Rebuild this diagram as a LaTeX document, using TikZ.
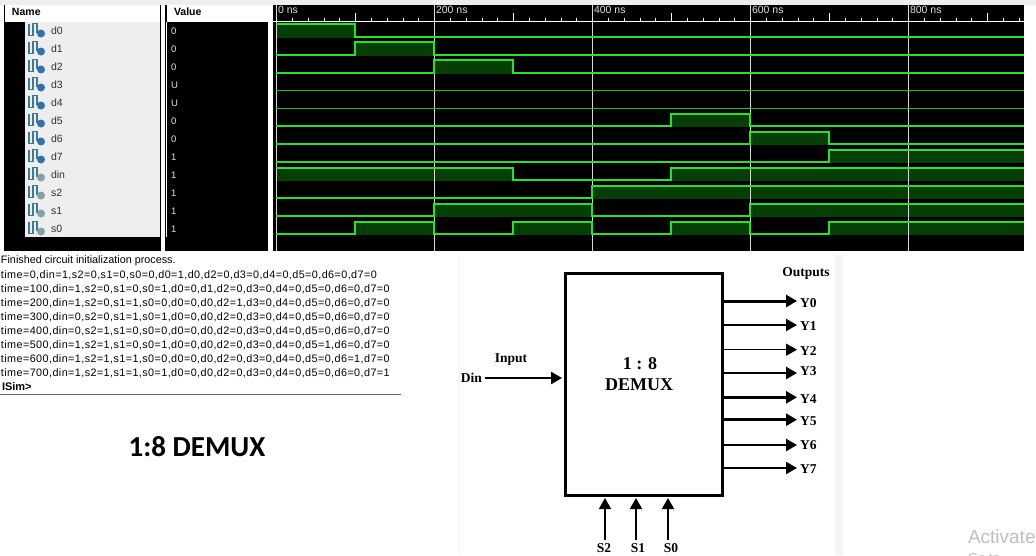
\documentclass[tikz,border=0pt]{standalone}
\usepackage{fontspec}
\setmainfont{Liberation Sans}
\newfontfamily\uifont{Liberation Sans}
\newfontfamily\logfont[LetterSpace=3.9]{Liberation Sans}
\newfontfamily\serifbold{Liberation Serif}
\newfontfamily\titlefont{Carlito}
\usetikzlibrary{arrows.meta}
\definecolor{wavegreen}{HTML}{2BE02B}
\definecolor{wavefill}{HTML}{063F06}
\definecolor{panelgrey}{HTML}{EEEEEE}
\definecolor{iconblue}{HTML}{2F72AE}
\definecolor{iconteal}{HTML}{7FA3A8}
\definecolor{iconline}{HTML}{3F7A92}
\tikzset{
  x=1pt,y=-1pt,
  every node/.style={inner sep=0pt,outer sep=0pt},
  wave/.style={draw=wavegreen,line width=1.8pt,line join=miter},
  thinwave/.style={draw=wavegreen!85!black,line width=1.1pt},
  high/.style={fill=wavefill,draw=none},
  cursorline/.style={draw=white!85!black,line width=1pt},
  tick/.style={draw=white,line width=.8pt},
  headtext/.style={anchor=west,font=\uifont\bfseries\fontsize{10.5}{12}\selectfont,text=black},
  sigtext/.style={anchor=west,font=\uifont\fontsize{10.5}{12}\selectfont,text=black!80},
  valtext/.style={anchor=west,font=\uifont\fontsize{9.5}{11}\selectfont,text=white!90!black},
  timetext/.style={anchor=west,font=\uifont\fontsize{10.5}{12}\selectfont,text=white!88!black},
  logtext/.style={anchor=west,font=\logfont\fontsize{10.8}{12}\selectfont,text=black},
  lbl/.style={font=\serifbold\bfseries\fontsize{13.5}{15}\selectfont,text=black},
  biglbl/.style={font=\serifbold\bfseries\fontsize{18}{20}\selectfont,text=black},
  box/.style={draw=black,line width=3pt,fill=white},
  arr/.style={draw=black,-{Triangle[length=11pt,width=12pt]}},
}
\newcommand{\sigicon}[3]{%
  \draw[iconline,line width=1.1pt] (#1,#2-7) -- (#1,#2+5) -- (#1+4,#2+5) -- (#1+4,#2-7) -- (#1+8,#2-7) -- (#1+8,#2+2);
  \fill[#3] (#1+12,#2+3) circle (4);
}
\begin{document}
\begin{tikzpicture}
\useasboundingbox (0,0) rectangle (1036,555);
\fill[white] (0,0) rectangle (1036,555);
% top strip
\fill[panelgrey] (0,0) rectangle (1036,4.5);
% panels
\fill[black] (4,5) rectangle (161,251);
\fill[black] (165,5) rectangle (268,251);
\fill[black] (273,5) rectangle (1024,251);
\fill[white] (5,5) rectangle (160,22);
\fill[white] (167,5) rectangle (268,22);
\fill[panelgrey] (25,22) rectangle (160,237);
\draw[white,line width=.8pt] (166.5,22) -- (166.5,237);
% signal names, icons, values
\foreach \i/\n/\v/\c in {0/d0/0/iconblue,1/d1/0/iconblue,2/d2/0/iconblue,3/d3/U/iconblue,4/d4/U/iconblue,5/d5/0/iconblue,6/d6/0/iconblue,7/d7/1/iconblue,8/din/1/iconteal,9/s2/1/iconteal,10/s1/1/iconteal,11/s0/1/iconteal}{
  \sigicon{29}{30.5+18*\i}{\c}
  \node[sigtext] (name\i) at (51,31+18*\i) {\n};
  \node[valtext] (val\i) at (171,31+18*\i) {\v};
}
\node[headtext] (namehead) at (12,11.5) {Name};
\node[headtext] (valuehead) at (174,11.5) {Value};
% high areas
\fill[high] (276,24) rectangle (355,37.5);
\fill[high] (355,42) rectangle (434,55.5);
\fill[high] (434,60) rectangle (513,73.5);
\fill[high] (671,114) rectangle (750,126.5);
\fill[high] (750,132) rectangle (829,144.5);
\fill[high] (829,150) rectangle (1024,162.5);
\fill[high] (276,168) rectangle (513,180.5);
\fill[high] (671,168) rectangle (1024,180.5);
\fill[high] (592,186) rectangle (1024,198.5);
\fill[high] (434,204) rectangle (592,216.5);
\fill[high] (750,204) rectangle (1024,216.5);
\fill[high] (355,222) rectangle (434,234.5);
\fill[high] (513,222) rectangle (592,234.5);
\fill[high] (671,222) rectangle (750,234.5);
\fill[high] (829,222) rectangle (1024,234.5);
% cursors
\foreach \x in {276.5,434,592,750,908}{\draw[cursorline] (\x,5) -- (\x,251);}
% time axis
\draw[white,line width=1pt] (273,21) -- (1024,21);
\foreach \k in {0,...,47}{\draw[tick] (276.5+15.8*\k,21) -- (276.5+15.8*\k,17.5);}
\foreach \k in {1,3,5,7,9}{\draw[tick] (276.5+79*\k,21) -- (276.5+79*\k,13);}
\begin{scope}
\clip (273,5.5) rectangle (1024,21);
\foreach \x/\t in {278/0,436/200,594/400,752/600,910/800}{\node[timetext] (t\t) at (\x,9.5) {\t{} ns};}
\end{scope}
% waves
\draw[wave] (276,24) -- (355,24) -- (355,37) -- (1024,37);
\draw[wave] (276,55) -- (355,55) -- (355,42) -- (434,42) -- (434,55) -- (1024,55);
\draw[wave] (276,73) -- (434,73) -- (434,60) -- (513,60) -- (513,73) -- (1024,73);
\draw[thinwave] (276,90.5) -- (1024,90.5);
\draw[thinwave] (276,108.5) -- (1024,108.5);
\draw[wave] (276,126) -- (671,126) -- (671,114) -- (750,114) -- (750,126) -- (1024,126);
\draw[wave] (276,144) -- (750,144) -- (750,132) -- (829,132) -- (829,144) -- (1024,144);
\draw[wave] (276,162) -- (829,162) -- (829,150) -- (1024,150);
\draw[wave] (276,168) -- (513,168) -- (513,180) -- (671,180) -- (671,168) -- (1024,168);
\draw[wave] (276,198) -- (592,198) -- (592,186) -- (1024,186);
\draw[wave] (276,216) -- (434,216) -- (434,204) -- (592,204) -- (592,216) -- (750,216) -- (750,204) -- (1024,204);
\draw[wave] (276,234) -- (355,234) -- (355,222) -- (434,222) -- (434,234) -- (513,234) -- (513,222) -- (592,222) -- (592,234) -- (671,234) -- (671,222) -- (750,222) -- (750,234) -- (829,234) -- (829,222) -- (1024,222);
% console
\node[logtext,font=\uifont\fontsize{10.8}{12}\selectfont] (log0) at (1,261) {Finished circuit initialization process.};
\node[logtext] (log1) at (1,275) {time=0,din=1,s2=0,s1=0,s0=0,d0=1,d0,d2=0,d3=0,d4=0,d5=0,d6=0,d7=0};
\node[logtext] (log2) at (1,289) {time=100,din=1,s2=0,s1=0,s0=1,d0=0,d1,d2=0,d3=0,d4=0,d5=0,d6=0,d7=0};
\node[logtext] (log3) at (1,303) {time=200,din=1,s2=0,s1=1,s0=0,d0=0,d0,d2=1,d3=0,d4=0,d5=0,d6=0,d7=0};
\node[logtext] (log4) at (1,317) {time=300,din=0,s2=0,s1=1,s0=1,d0=0,d0,d2=0,d3=0,d4=0,d5=0,d6=0,d7=0};
\node[logtext] (log5) at (1,331) {time=400,din=0,s2=1,s1=0,s0=0,d0=0,d0,d2=0,d3=0,d4=0,d5=0,d6=0,d7=0};
\node[logtext] (log6) at (1,345) {time=500,din=1,s2=1,s1=0,s0=1,d0=0,d0,d2=0,d3=0,d4=0,d5=1,d6=0,d7=0};
\node[logtext] (log7) at (1,359) {time=600,din=1,s2=1,s1=1,s0=0,d0=0,d0,d2=0,d3=0,d4=0,d5=0,d6=1,d7=0};
\node[logtext] (log8) at (1,373) {time=700,din=1,s2=1,s1=1,s0=1,d0=0,d0,d2=0,d3=0,d4=0,d5=0,d6=0,d7=1};
\node[logtext,font=\uifont\bfseries\fontsize{11}{12}\selectfont] (prompt) at (2,387) {ISim>};
\draw[black!60,line width=.8pt] (0,394.5) -- (401,394.5);
\node[font=\titlefont\bfseries\fontsize{29}{32}\selectfont] (title) at (197,447) {1:8 DEMUX};
% side strips
\fill[black!4] (835,255) rectangle (843,555);
\fill[black!3] (458,255) rectangle (459.5,555);
% DEMUX block
\node[box,minimum width=157pt,minimum height=221.5pt] (demux) at (644,384.3) {};
\node[biglbl] (d1) at (640,364) {1 : 8};
\node[biglbl] (d2) at (639,385) {DEMUX};
\node[lbl] (outputs) at (806,273) {Outputs};
\node[lbl] (input) at (511,360) {Input};
\node[lbl,anchor=east] (din) at (482,378) {Din};
\coordinate (dintail) at (485,378);
\coordinate (dintip) at (562,378);
\draw[arr,line width=2.5pt] (dintail) -- (dintip);
\foreach \n/\y/\ly/\w in {0/301/303/3,1/325/326/2,2/349.7/351/1.5,3/373/371/2.5,4/397.3/399/3,5/419.7/421/3,6/445/445/2.5,7/468/469/2}{
  \coordinate (tip\n) at (797,\y);
  \draw[arr,line width=\w pt] (demux.east |- tip\n) -- (tip\n);
  \node[lbl,anchor=west] (Y\n) at (800,\ly) {Y\n};
}
\foreach \n/\x/\lx in {2/605/604,1/636/638,0/668/671}{
  \node[lbl] (S\n) at (\lx,548) {S\n};
  \coordinate (stail\n) at (\x,540);
  \coordinate (stip\n) at (\x,498);
  \draw[arr,line width=1.5pt] (stail\n) -- (stip\n);
}
% watermark
\node[anchor=west,text=black!25,font=\uifont\fontsize{19}{22}\selectfont] (act) at (968,537) {Activate};
\node[anchor=west,text=black!25,font=\uifont\fontsize{13}{16}\selectfont] (goto) at (968,558) {Go to};
\end{tikzpicture}
\end{document}
